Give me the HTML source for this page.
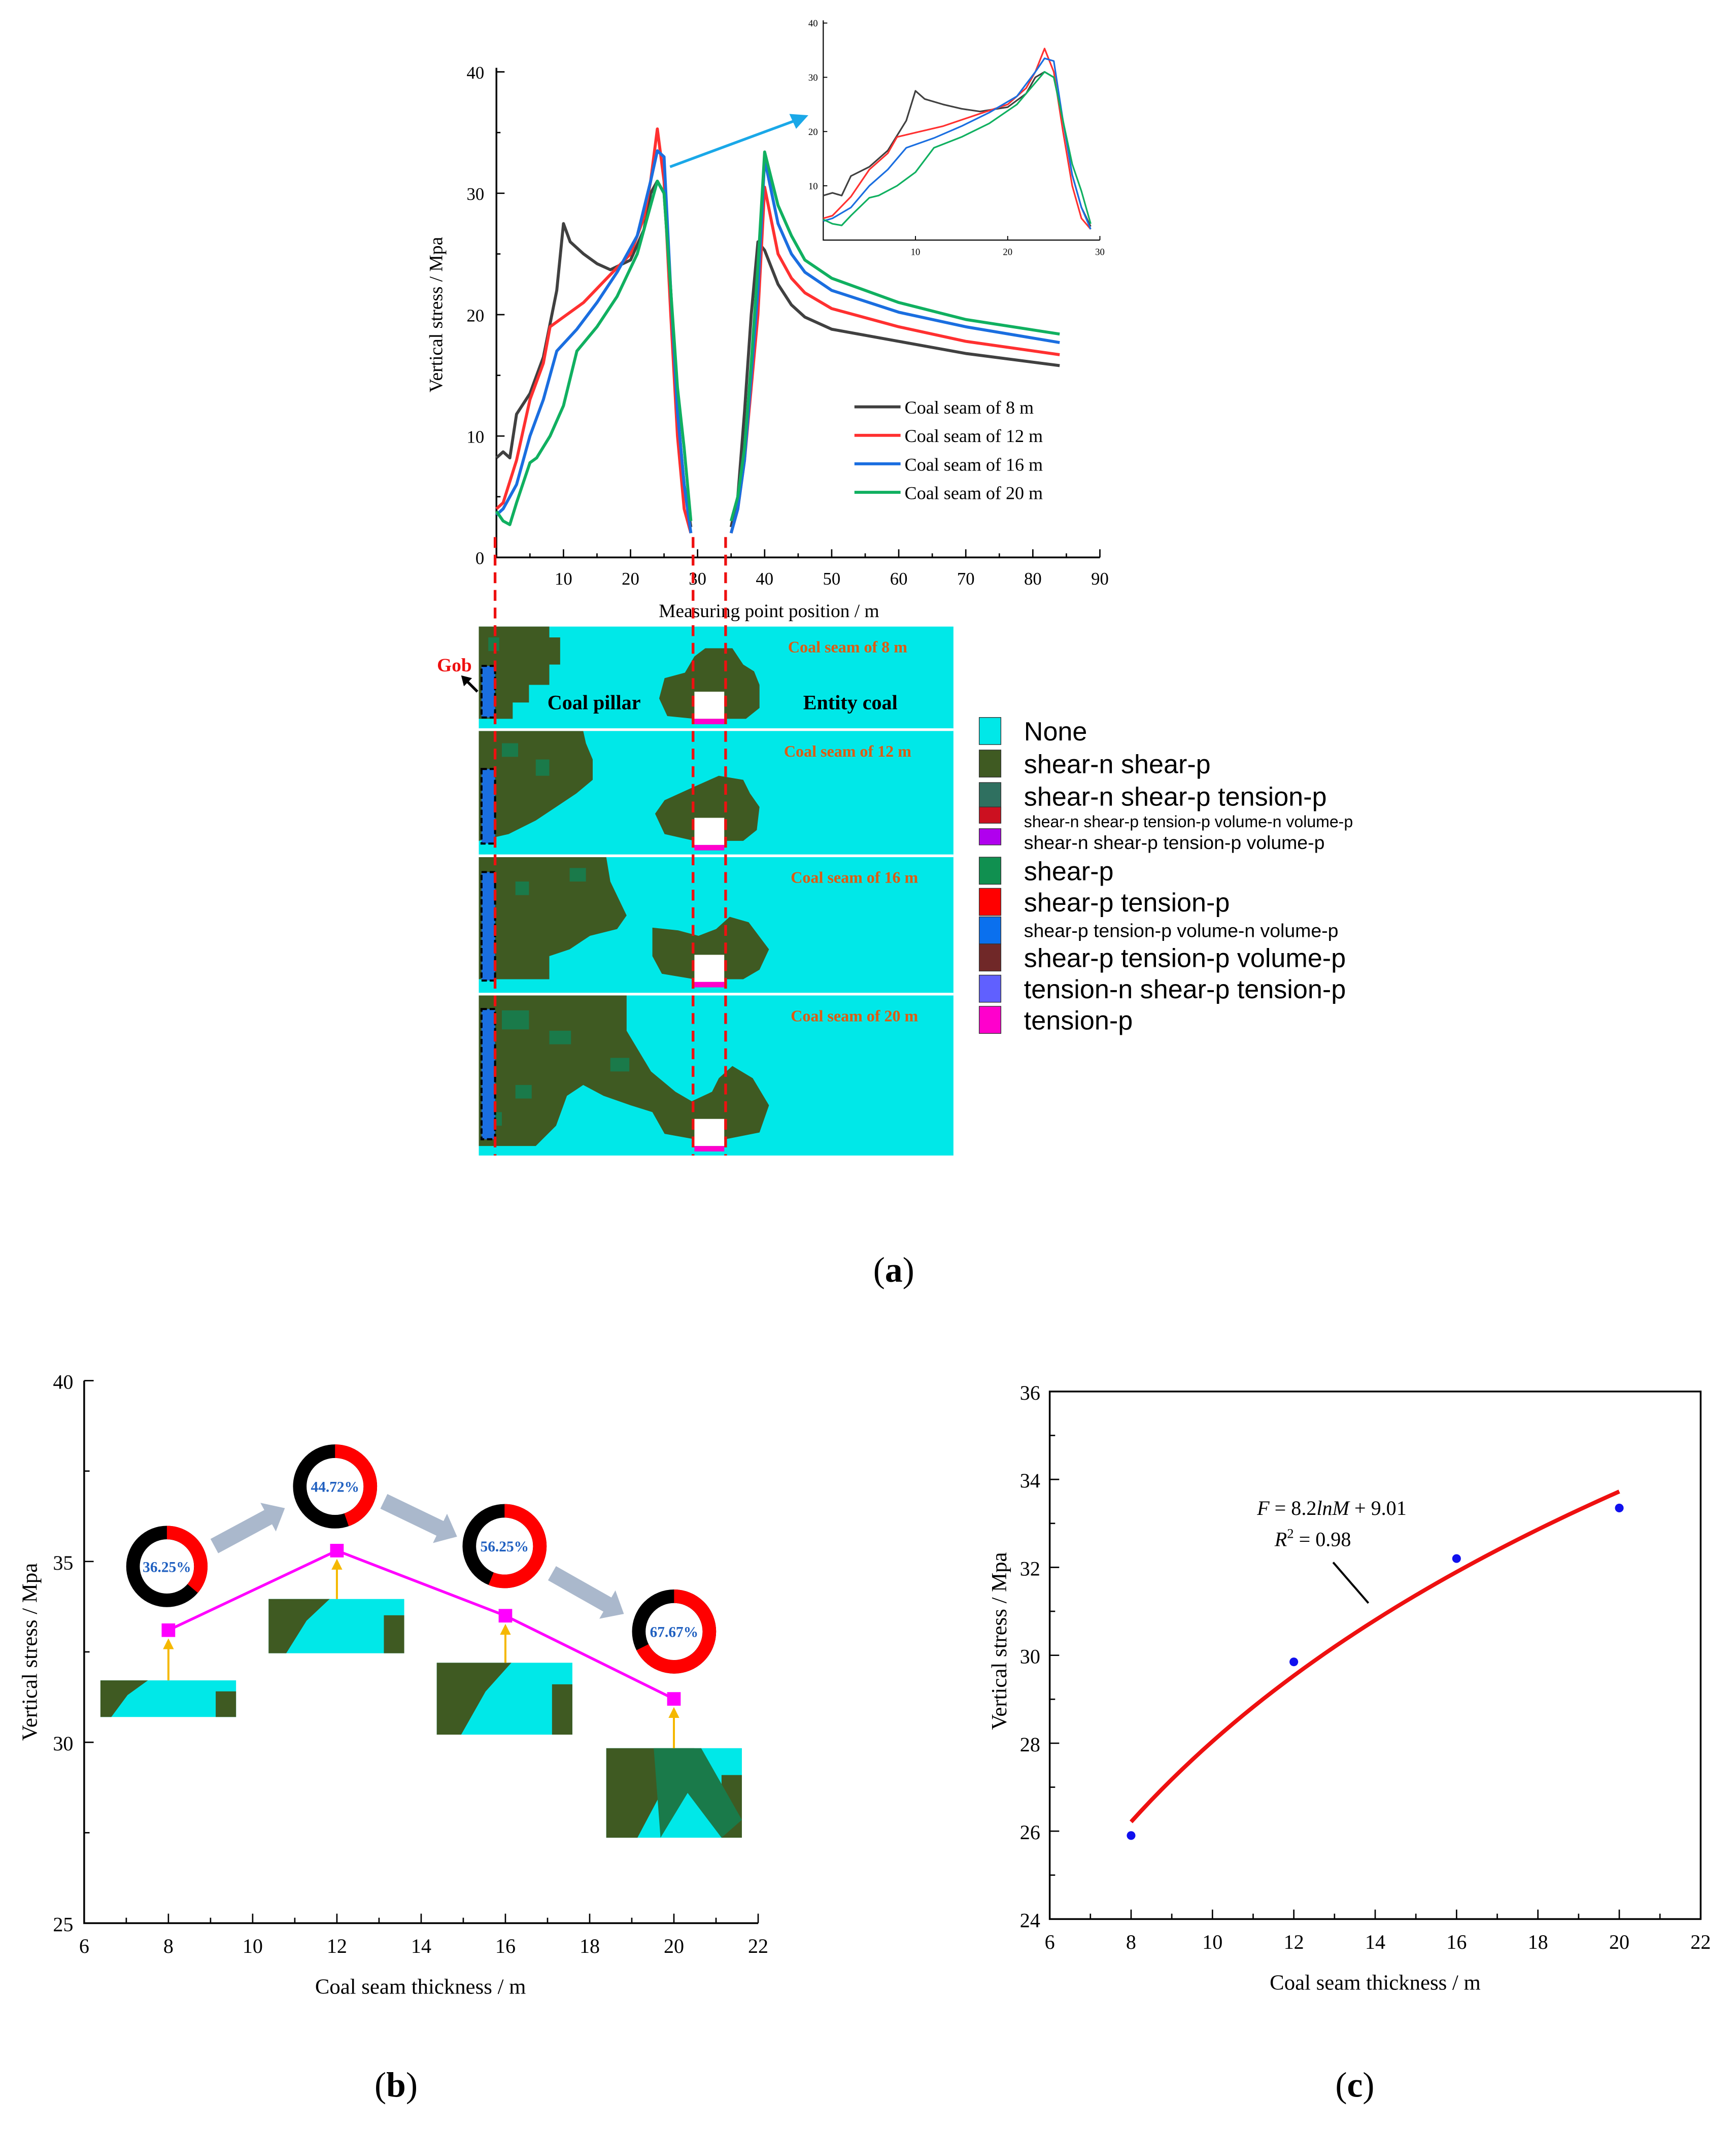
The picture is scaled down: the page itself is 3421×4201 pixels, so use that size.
<!DOCTYPE html>
<html><head><meta charset="utf-8"><style>
html,body{margin:0;padding:0;background:#fff}
svg{display:block}
text{font-family:"Liberation Serif",serif}
.s{font-family:"Liberation Sans",sans-serif}
</style></head><body>
<svg id="fig" width="3421" height="4201" viewBox="0 0 1280 1572" xmlns="http://www.w3.org/2000/svg">
<g id="pa"></g>
<g id="maps"></g>
<g id="pb"></g>
<g id="pc"></g>
<text x="659" y="945" font-size="26" text-anchor="middle">(<tspan font-weight="bold">a</tspan>)</text>
<text x="292" y="1546" font-size="26" text-anchor="middle">(<tspan font-weight="bold">b</tspan>)</text>
<text x="999" y="1546" font-size="26" text-anchor="middle">(<tspan font-weight="bold">c</tspan>)</text>
</svg>
<script>
// ---- Panel (a) data ----
const seriesNames = ["Coal seam of 8 m","Coal seam of 12 m","Coal seam of 16 m","Coal seam of 20 m"];
const seriesColors = ["#404040","#ff3030","#1a6ee0","#10b060"];
const pillarX = [
 [0,1,2,3,5,7,9,10,11,13,15,17,20,22,23,24,25,26,27,28,29],
 [0,1,3,5,7,8,10,13,17,20,22,23,24,25,26,27,28,29],
 [0,1,3,5,7,9,12,15,18,21,23,24,25,26,27,28,29],
 [0,1,2,3,5,6,8,10,12,15,18,21,23,24,25,26,27,28,29]];
const pillarY = [
 [8.2,8.7,8.2,11.8,13.5,16.5,22,27.5,26,25,24.2,23.7,24.5,27,30,31,30,22,12,6,2.5],
 [4,4.5,8,13,16,19,19.8,21,23.3,25,28,31,35.3,31,20,10,4,2],
 [3.5,4,6,10,13,17,18.8,21,23.5,26.5,31,33.5,33,22,12,6,2],
 [3.8,3,2.7,4.5,7.8,8.2,10,12.5,17,19,21.5,25,29,31,30,22,14,9,3]];
const coalX = [35,36,37,38,39,40,42,44,46,50,60,70,84];
const coalY = [
 [2.5,5,12,20,26,25.3,22.5,20.8,19.8,18.8,17.8,16.8,15.8],
 [2,4,8,14,20,30.5,25,23,21.8,20.5,19,17.8,16.7],
 [2,4,8,15,22,32.8,27.5,25,23.5,22,20.2,19,17.7],
 [3,5,9,16,24,33.4,29,26.5,24.5,23,21,19.6,18.4]];
const xTicksA = [10,20,30,40,50,60,70,80,90];
const yTicksA = [0,10,20,30,40];
const insetTicksX=[10,20,30], insetTicksY=[10,20,30,40];
// ---- Panel (b) data ----
const thickB = [8,12,16,20];
const stressB = [33.1,35.3,33.5,31.2];
const pctB = [36.25,44.72,56.25,67.67];
// ---- Panel (c) data ----
const thickC = [8,12,16,20];
const stressC = [25.9,29.85,32.2,33.35];
const fitA = 8.2, fitB = 9.01;

const NS="http://www.w3.org/2000/svg";
function mk(p,tag,attrs,txt){const e=document.createElementNS(NS,tag);for(const k in attrs)e.setAttribute(k,attrs[k]);if(txt!==undefined)e.textContent=txt;p.appendChild(e);return e;}

// ===== Panel a =====
const pa=document.getElementById('pa');
const ax=v=>366+v*(811-366)/90, ay=v=>411-v*(411-53)/40;
let e;
e=mk(pa,'path',{d:`M366 50 V411 H811`,fill:'none',stroke:'#000','stroke-width':1.3});


xTicksA.forEach(t=>{mk(pa,'line',{x1:ax(t),x2:ax(t),y1:411,y2:405,stroke:'#000'});mk(pa,'line',{x1:ax(t-5),x2:ax(t-5),y1:411,y2:408,stroke:'#000'});
 e=mk(pa,'text',{x:ax(t),y:431,'font-size':13,'text-anchor':'middle'},t);
 
 });
yTicksA.forEach(t=>{mk(pa,'line',{x1:366,x2:372,y1:ay(t),y2:ay(t),stroke:'#000'});if(t<40)mk(pa,'line',{x1:366,x2:369,y1:ay(t+5),y2:ay(t+5),stroke:'#000'});
 e=mk(pa,'text',{x:357,y:ay(t)+5,'font-size':13,'text-anchor':'end'},t);
 
 });
e=mk(pa,'text',{x:567,y:455,'font-size':14,'text-anchor':'middle'},'Measuring point position / m');


e=mk(pa,'text',{x:326,y:232,'font-size':14,'text-anchor':'middle',transform:'rotate(-90 326 232)'},'Vertical stress / Mpa');


function line(p,xs,ys,fx,fy,col,w){return mk(p,'polyline',{points:xs.map((x,i)=>fx(x)+','+fy(ys[i])).join(' '),fill:'none',stroke:col,'stroke-width':w,'stroke-linejoin':'round'});}
for(let s=0;s<4;s++){
 e=line(pa,pillarX[s],pillarY[s],ax,ay,seriesColors[s],2.2);
 
 
 e=line(pa,coalX,coalY[s],ax,ay,seriesColors[s],2.2);
 
 
 mk(pa,'line',{x1:630,x2:664,y1:300+s*21,y2:300+s*21,stroke:seriesColors[s],'stroke-width':2.2});
 e=mk(pa,'text',{x:667,y:305+s*21,'font-size':13.5},seriesNames[s]);
 
 
}
// inset
const ix=v=>607+v*(811-607)/30, iy=v=>177-v*(177-17)/40;
mk(pa,'path',{d:'M607 15 V177 H811',fill:'none',stroke:'#000','stroke-width':0.8});
insetTicksX.forEach(t=>{mk(pa,'line',{x1:ix(t),x2:ix(t),y1:177,y2:174,stroke:'#000','stroke-width':.7});mk(pa,'text',{x:ix(t),y:188,'font-size':7,'text-anchor':'middle'},t);});
insetTicksY.forEach(t=>{mk(pa,'line',{x1:607,x2:610,y1:iy(t),y2:iy(t),stroke:'#000','stroke-width':.7});mk(pa,'text',{x:603,y:iy(t)+2.5,'font-size':7,'text-anchor':'end'},t);});
for(let s=0;s<4;s++){e=line(pa,pillarX[s],pillarY[s],ix,iy,seriesColors[s],1.2);
 
 }
mk(pa,'line',{x1:494,y1:123,x2:586,y2:89,stroke:'#1aa8e8','stroke-width':2});
mk(pa,'polygon',{points:'596,85 582,84 587,95',fill:'#1aa8e8'});

// ===== Maps =====
const mp=document.getElementById('maps');
const CY='#00e8e8',GR='#3f5a22',G2='#1a7a4a';
mk(mp,'rect',{x:353,y:462,width:350,height:390,fill:CY});
function poly(pts,c){return mk(mp,'polygon',{points:pts,fill:c||GR});}
poly('353,462 405,462 405,470 413,470 413,490 405,490 405,505 390,505 390,518 378,518 378,530 365,530 353,530');
poly('512,484 520,478 540,478 548,490 556,495 560,505 560,522 550,530 512,530 492,528 486,515 490,500 505,496');
poly('353,539 430,539 432,548 437,560 437,575 425,585 410,595 395,605 375,615 353,620');
poly('512,580 530,572 548,575 553,585 560,595 558,612 548,620 512,620 490,615 483,600 490,590');
poly('353,632 447,632 450,650 462,675 455,685 435,690 420,700 405,705 405,722 353,722');
poly('481,684 500,686 515,690 528,685 538,676 552,680 567,700 560,715 548,722 512,722 488,718 481,705');
poly('353,734 462,734 462,760 468,770 480,790 498,805 510,812 525,805 530,795 540,786 555,795 567,815 560,835 535,840 512,840 490,836 481,820 465,815 445,808 430,800 418,808 410,830 395,845 353,845');
for(const [x,y,w,h] of [[360,470,8,10],[370,548,12,10],[395,560,10,12],[380,650,10,10],[420,640,12,10],[370,745,20,14],[405,760,16,10],[450,780,14,10],[380,800,12,10],[360,820,10,10]]) poly(`${x},${y} ${x+w},${y} ${x+w},${y+h} ${x},${y+h}`,G2);
const seamY=[[462,537],[539,630],[632,731],[734,852]];
const seamLbl=['Coal seam of 8 m','Coal seam of 12 m','Coal seam of 16 m','Coal seam of 20 m'];
const gobH=[38,55,80,96];
seamY.forEach(([a,b],i)=>{
 if(i>0) mk(mp,'line',{x1:353,x2:703,y1:a-1,y2:a-1,stroke:'#fff','stroke-width':2});
 mk(mp,'rect',{x:355,y:b-gobH[i]-(i==3?12:8),width:10,height:gobH[i],fill:'#1a6ee0',stroke:'#000','stroke-width':1.5,'stroke-dasharray':'4 2'});
 mk(mp,'rect',{x:512,y:b-27,width:22,height:20,fill:'#fff'});
 mk(mp,'rect',{x:512,y:b-7,width:22,height:4,fill:'#ff00cc'});
 e=mk(mp,'text',{x:625+(i>1?5:0),y:a+19,'font-size':12,'font-weight':'bold',fill:'#e05a10','text-anchor':'middle'},seamLbl[i]);
 
 
});
mk(mp,'text',{x:438,y:523,'font-size':15,'font-weight':'bold','text-anchor':'middle'},'Coal pillar');
mk(mp,'text',{x:627,y:523,'font-size':15,'font-weight':'bold','text-anchor':'middle'},'Entity coal');
mk(mp,'text',{x:335,y:495,'font-size':14,'font-weight':'bold',fill:'#ee1010','text-anchor':'middle'},'Gob');
mk(mp,'line',{x1:352,x2:343,y1:510,y2:501,stroke:'#000','stroke-width':2});
mk(mp,'polygon',{points:'340,498 348,500 342,506',fill:'#000'});
[365,511,535].forEach(x=>mk(mp,'line',{x1:x,x2:x,y1:396,y2:852,stroke:'#ee1010','stroke-width':2,'stroke-dasharray':'8 5'}));
const legC=['#00e8e8','#3f5a22','#2f7060','#cc1020','#b000ee','#109050','#ff0000','#0a70ee','#702828','#6060ff','#ff00cc'];
const legT=['None','shear-n shear-p','shear-n shear-p tension-p','shear-n shear-p tension-p volume-n volume-p','shear-n shear-p tension-p volume-p','shear-p','shear-p tension-p','shear-p tension-p volume-n volume-p','shear-p tension-p volume-p','tension-n shear-p tension-p','tension-p'];
const legY=[540,564,588,606,622,643,666,687,707,730,753];
const legS=[19.5,19.5,19.5,12,14,19.5,19.5,14,19.5,19.5,19.5];
legC.forEach((c,i)=>{mk(mp,'rect',{x:722,y:legY[i]-11,width:16,height:i==3||i==4?12:20,fill:c,stroke:'#333','stroke-width':.5});
 e=mk(mp,'text',{x:755,y:legY[i]+6-(legS[i]<15?2:0),'font-size':legS[i],class:'s'},legT[i]);
 
 });

// ===== Panel b =====
const pb=document.getElementById('pb');
const bx=v=>62+(v-6)*(559-62)/16, by=v=>1418-(v-25)*(1418-1018)/15;
mk(pb,'path',{d:'M62 1018 V1418 H559',fill:'none',stroke:'#000','stroke-width':1.3});
for(let t=6;t<=22;t+=2){mk(pb,'line',{x1:bx(t),x2:bx(t),y1:1418,y2:1411,stroke:'#000'});if(t<22)mk(pb,'line',{x1:bx(t+1),x2:bx(t+1),y1:1418,y2:1414,stroke:'#000'});
 e=mk(pb,'text',{x:bx(t),y:1440,'font-size':15,'text-anchor':'middle'},t);
 
 }
for(let t=25;t<=40;t+=5){mk(pb,'line',{x1:62,x2:69,y1:by(t),y2:by(t),stroke:'#000'});if(t<40)mk(pb,'line',{x1:62,x2:66,y1:by(t+2.5),y2:by(t+2.5),stroke:'#000'});
 e=mk(pb,'text',{x:54,y:by(t)+6,'font-size':15,'text-anchor':'end'},t);
 
 }
mk(pb,'text',{x:310,y:1470,'font-size':16,'text-anchor':'middle'},'Coal seam thickness / m');
mk(pb,'text',{x:27,y:1218,'font-size':16,'text-anchor':'middle',transform:'rotate(-90 27 1218)'},'Vertical stress / Mpa');
const thumbs=[[74,1239,100,27],[198,1179,100,40],[322,1226,100,53],[447,1289,100,66]];
thumbs.forEach(([x,y,w,h],i)=>{mk(pb,'rect',{x,y,width:w,height:h,fill:CY});
 mk(pb,'polygon',{points:`${x},${y} ${x+35+i*10},${y} ${x+20+i*8},${y+h*0.4} ${x+8+i*5},${y+h} ${x},${y+h}`,fill:GR});
 mk(pb,'rect',{x:x+w-15,y:y+h*0.3,width:15,height:h*0.7,fill:GR});
 if(i==3){mk(pb,'polygon',{points:`${x+35},${y} ${x+70},${y} ${x+100},${y+h*0.8} ${x+85},${y+h} ${x+60},${y+h*0.5} ${x+40},${y+h}`,fill:G2});}
});
e=mk(pb,'polyline',{points:thickB.map((t,i)=>bx(t)+','+by(stressB[i])).join(' '),fill:'none',stroke:'#ff00ff','stroke-width':2});


thickB.forEach((t,i)=>{const X=bx(t),Y=by(stressB[i]);
 mk(pb,'line',{x1:X,x2:X,y1:thumbs[i][1],y2:Y+8,stroke:'#f5b800','stroke-width':1.5});
 mk(pb,'polygon',{points:`${X},${Y+6} ${X-4},${Y+14} ${X+4},${Y+14}`,fill:'#f5b800'});
 e=mk(pb,'rect',{x:X-5,y:Y-5,width:10,height:10,fill:'#ff00ff'});
 
 });
const donuts=[[123,1155,30],[247,1096,31],[372,1140,31],[497,1203,31]];
pctB.forEach((p,i)=>{const [cx,cy,r]=donuts[i];const rr=r-5;
 mk(pb,'circle',{cx,cy,r:rr,fill:'none',stroke:'#000','stroke-width':10});
 const a=p/100*2*Math.PI;const x2=cx+rr*Math.sin(a),y2=cy-rr*Math.cos(a);
 e=mk(pb,'path',{d:`M${cx} ${cy-rr} A${rr} ${rr} 0 ${p>50?1:0} 1 ${x2} ${y2}`,fill:'none',stroke:'#ff0000','stroke-width':10});
 
 
 mk(pb,'text',{x:cx,y:cy+4,'font-size':11,'font-weight':'bold',fill:'#2060c0','text-anchor':'middle'},p.toFixed(2)+'%');});
[[158,1140,210,1112],[283,1107,337,1133],[407,1160,460,1190]].forEach(([x1,y1,x2,y2])=>{
 const dx=x2-x1,dy=y2-y1,L=Math.hypot(dx,dy),ux=dx/L,uy=dy/L,nx=-uy,ny=ux;
 const hx=x2-ux*14,hy=y2-uy*14;
 mk(pb,'polygon',{points:[[x1+nx*6,y1+ny*6],[hx+nx*6,hy+ny*6],[hx+nx*12,hy+ny*12],[x2,y2],[hx-nx*12,hy-ny*12],[hx-nx*6,hy-ny*6],[x1-nx*6,y1-ny*6]].map(p=>p.join(',')).join(' '),fill:'#aab8cc'});});

// ===== Panel c =====
const pc=document.getElementById('pc');
const cx_=v=>774+(v-6)*(1254-774)/16, cy_=v=>1415-(v-24)*(1415-1026)/12;
mk(pc,'rect',{x:774,y:1026,width:480,height:389,fill:'none',stroke:'#000','stroke-width':1.3});
for(let t=6;t<=22;t+=2){mk(pc,'line',{x1:cx_(t),x2:cx_(t),y1:1415,y2:1408,stroke:'#000'});if(t<22)mk(pc,'line',{x1:cx_(t+1),x2:cx_(t+1),y1:1415,y2:1411,stroke:'#000'});
 e=mk(pc,'text',{x:cx_(t),y:1437,'font-size':15,'text-anchor':'middle'},t);
 
 }
for(let t=24;t<=36;t+=2){mk(pc,'line',{x1:774,x2:781,y1:cy_(t),y2:cy_(t),stroke:'#000'});if(t<36)mk(pc,'line',{x1:774,x2:778,y1:cy_(t+1),y2:cy_(t+1),stroke:'#000'});
 e=mk(pc,'text',{x:767,y:cy_(t)+6,'font-size':15,'text-anchor':'end'},t);
 
 }
mk(pc,'text',{x:1014,y:1467,'font-size':16,'text-anchor':'middle'},'Coal seam thickness / m');
mk(pc,'text',{x:742,y:1210,'font-size':16,'text-anchor':'middle',transform:'rotate(-90 742 1210)'},'Vertical stress / Mpa');
let pts=[];for(let m=8;m<=20.01;m+=0.25)pts.push(cx_(m)+','+cy_(fitA*Math.log(m)+fitB+0.15));
e=mk(pc,'polyline',{points:pts.join(' '),fill:'none',stroke:'#ee1010','stroke-width':3});


thickC.forEach((t,i)=>{e=mk(pc,'circle',{cx:cx_(t),cy:cy_(stressC[i]),r:3.2,fill:'#1010ee'});
 
 });
mk(pc,'text',{x:982,y:1117,'font-size':15,'text-anchor':'middle'}).innerHTML='<tspan font-style="italic">F</tspan> = 8.2<tspan font-style="italic">lnM</tspan> + 9.01';
mk(pc,'text',{x:968,y:1140,'font-size':15,'text-anchor':'middle'}).innerHTML='<tspan font-style="italic">R</tspan><tspan font-size="10" dy="-6">2</tspan><tspan dy="6"> = 0.98</tspan>';
mk(pc,'line',{x1:983,y1:1152,x2:1009,y2:1182,stroke:'#000','stroke-width':1.5});
</script>
</body></html>
